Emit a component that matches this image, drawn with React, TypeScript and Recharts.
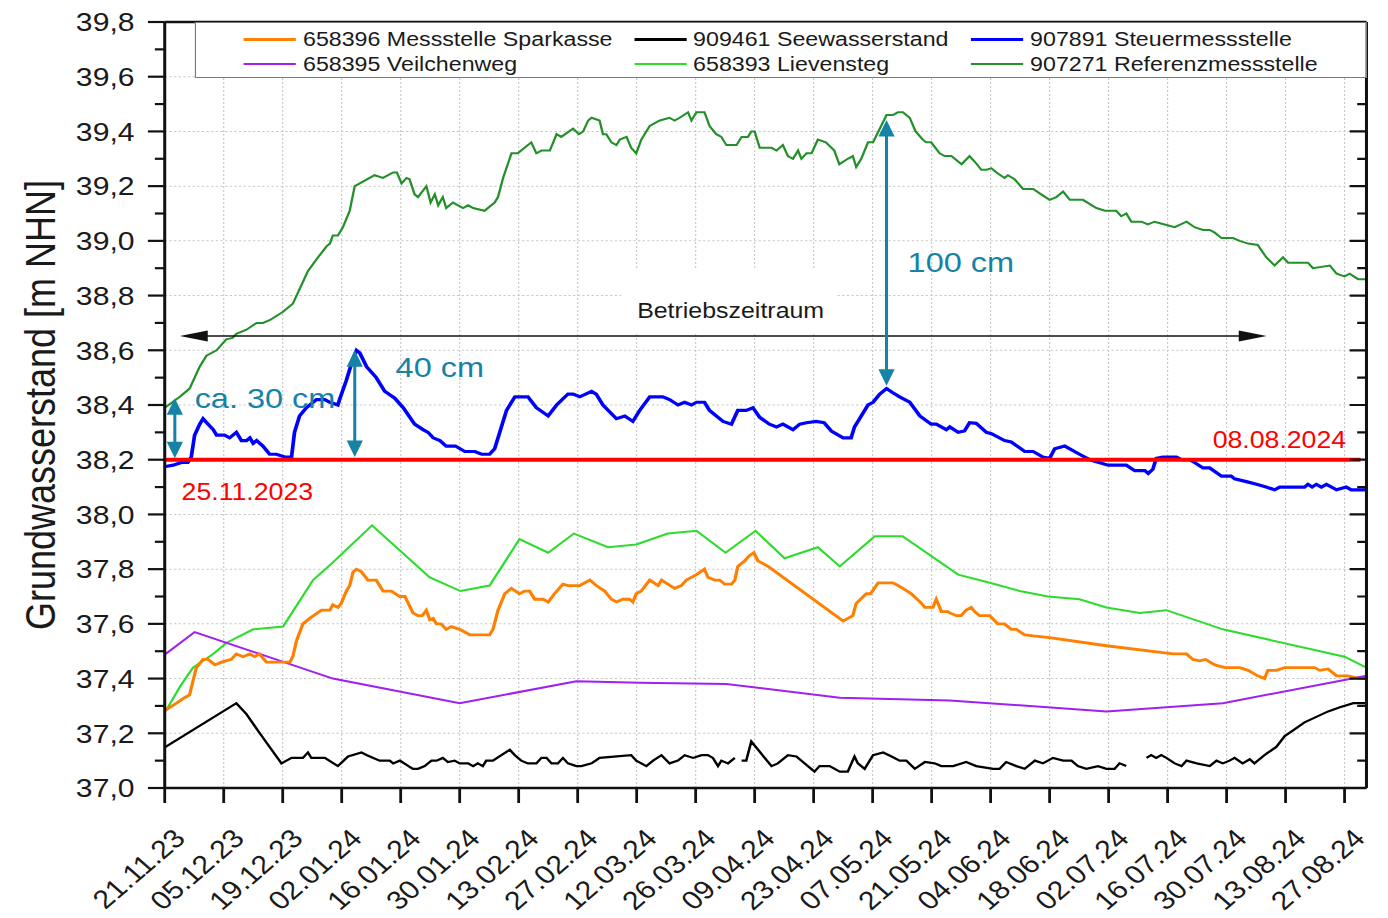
import React from "react";
import {
  LineChart,
  Line,
  XAxis,
  YAxis,
  CartesianGrid,
  Legend,
  ReferenceLine,
  ReferenceDot,
  ReferenceArea,
} from "recharts";

// x = Tage seit 21.11.2023, y = Grundwasserstand [m NHN]
type Pt = [number, number | null];

const X_TICK_LABELS = [
  "21.11.23", "05.12.23", "19.12.23", "02.01.24", "16.01.24", "30.01.24", "13.02.24",
  "27.02.24", "12.03.24", "26.03.24", "09.04.24", "23.04.24", "07.05.24", "21.05.24",
  "04.06.24", "18.06.24", "02.07.24", "16.07.24", "30.07.24", "13.08.24", "27.08.24",
];
const Y_TICKS = [
  37.0, 37.1, 37.2, 37.3, 37.4, 37.5, 37.6, 37.7, 37.8, 37.9, 38.0, 38.1, 38.2, 38.3, 38.4,
  38.5, 38.6, 38.7, 38.8, 38.9, 39.0, 39.1, 39.2, 39.3, 39.4, 39.5, 39.6, 39.7, 39.8,
];

const SPARKASSE: Pt[] = [
  [0.2, 37.285], [2.8, 37.31], [4.7, 37.33], [5.9, 37.34], [6.7, 37.39], [7.5, 37.44], [9.1, 37.47],
  [10.3, 37.47], [11.9, 37.45], [13.5, 37.46], [15.8, 37.47], [17, 37.49], [18.6, 37.48], [20.2, 37.49],
  [21.3, 37.48], [22.5, 37.49], [24.1, 37.46], [27.3, 37.46], [29.7, 37.46], [30.4, 37.48], [31.3, 37.54],
  [32.8, 37.6], [34.4, 37.62], [37.2, 37.65], [39.2, 37.65], [39.9, 37.67], [41.1, 37.66], [41.9, 37.675],
  [43.1, 37.72], [43.9, 37.74], [44.7, 37.79], [45.5, 37.8], [46.7, 37.79], [48.2, 37.76], [50.2, 37.76],
  [51.8, 37.72], [53.8, 37.72], [55.8, 37.7], [57, 37.7], [58.9, 37.64], [60.1, 37.63], [61.1, 37.63],
  [62.1, 37.65], [62.9, 37.615], [63.7, 37.62], [64.5, 37.6], [65.6, 37.6], [66.8, 37.58], [68, 37.59],
  [70, 37.58], [72.4, 37.56], [74, 37.56], [77.1, 37.56], [77.9, 37.58], [79.1, 37.65], [80.7, 37.71],
  [82.3, 37.73], [84.2, 37.71], [85.4, 37.72], [86.6, 37.72], [87.8, 37.69], [89.8, 37.69], [91, 37.68],
  [92.5, 37.71], [94.5, 37.745], [95.7, 37.74], [98.5, 37.74], [100.9, 37.76], [102.4, 37.74], [104.4, 37.72],
  [106, 37.69], [107.2, 37.68], [108.7, 37.69], [110.3, 37.69], [111.1, 37.68], [111.9, 37.71], [113.1, 37.72],
  [115.1, 37.76], [117.1, 37.74], [117.9, 37.76], [121, 37.73], [122.6, 37.74], [123.8, 37.76], [126.2, 37.78],
  [128.1, 37.8], [128.9, 37.77], [130.5, 37.76], [131.7, 37.76], [132.9, 37.745], [134.5, 37.745], [135.3, 37.76],
  [136, 37.81], [137.6, 37.83], [138.8, 37.85], [139.8, 37.86], [140.8, 37.83], [142, 37.82], [143.2, 37.81],
  [161, 37.61], [163.3, 37.63], [164.1, 37.675], [166.5, 37.71], [167.5, 37.71], [169.3, 37.75], [172.8, 37.75],
  [174, 37.74], [175.2, 37.73], [177.2, 37.71], [179.6, 37.675], [180.4, 37.66], [182.3, 37.66], [183.1, 37.69],
  [184.3, 37.645], [185.9, 37.645], [186.3, 37.64], [187.9, 37.63], [189, 37.63], [190.2, 37.65], [191.4, 37.66],
  [192.2, 37.645], [193.4, 37.63], [195.8, 37.63], [197.7, 37.6], [199.3, 37.6], [200.9, 37.58], [202.1, 37.58],
  [204.1, 37.56], [206.1, 37.556], [210, 37.55], [223.5, 37.52], [239.3, 37.49], [242.5, 37.49], [244, 37.47],
  [245.6, 37.465], [247, 37.47], [249.2, 37.45], [251.6, 37.44], [255.1, 37.44], [257.1, 37.43], [259.4, 37.41],
  [261, 37.4], [261.8, 37.43], [263.8, 37.43], [265.8, 37.44], [272.9, 37.44], [274.1, 37.43], [276.1, 37.435],
  [278.1, 37.41], [280.8, 37.41], [283.6, 37.4], [285.2, 37.4],
];

const SEEWASSER: Pt[] = [
  [0.2, 37.15], [17, 37.31], [19.4, 37.27], [22.1, 37.21], [24.9, 37.15], [27.7, 37.09], [30.1, 37.11],
  [32.8, 37.11], [34, 37.13], [34.8, 37.11], [38, 37.11], [41.1, 37.08], [43.5, 37.115], [46.7, 37.13],
  [48, 37.12], [51, 37.1], [53.4, 37.1], [54.2, 37.09], [55.8, 37.1], [58.9, 37.07], [60.1, 37.07],
  [61.7, 37.08], [63.3, 37.1], [64.5, 37.1], [66, 37.11], [67.2, 37.095], [68.8, 37.1], [70, 37.09],
  [72, 37.09], [73.2, 37.08], [74.3, 37.09], [75.5, 37.08], [76.3, 37.1], [77.9, 37.1], [79.9, 37.12],
  [81.9, 37.14], [83.1, 37.12], [84.6, 37.1], [86.2, 37.09], [88.2, 37.09], [89.4, 37.11], [90.6, 37.11],
  [91.8, 37.09], [93.3, 37.09], [94.5, 37.11], [95.7, 37.09], [97.7, 37.08], [98.9, 37.08], [101.3, 37.09],
  [103.2, 37.11], [110.7, 37.12], [111.9, 37.1], [114.3, 37.08], [115.9, 37.1], [117.9, 37.12], [119.8, 37.09],
  [121.8, 37.1], [123.4, 37.12], [125.4, 37.11], [127.4, 37.12], [128.9, 37.12], [130.1, 37.11], [131.3, 37.08],
  [132.1, 37.1], [133.7, 37.09], [135.3, 37.11], [136.1, null], [136.9, 37.1], [138, 37.1], [139.2, 37.17],
  [140.8, 37.14], [144, 37.08], [145.5, 37.09], [147.9, 37.12], [149.9, 37.115], [154.2, 37.06], [155.4, 37.08],
  [157.8, 37.08], [160.2, 37.06], [162.1, 37.06], [163.7, 37.115], [164.5, 37.09], [166.1, 37.07], [168.1, 37.12],
  [170.5, 37.13], [172.5, 37.115], [174.4, 37.1], [176, 37.1], [178, 37.07], [180.4, 37.095], [182.7, 37.09],
  [184.3, 37.08], [187.1, 37.08], [190.2, 37.095], [192.6, 37.08], [196.6, 37.07], [198.1, 37.07], [199.7, 37.095],
  [202.1, 37.08], [204.1, 37.07], [206.5, 37.1], [208.4, 37.09], [210.8, 37.11], [213.2, 37.1], [215.2, 37.1],
  [216.7, 37.08], [218.7, 37.07], [221.5, 37.08], [223.5, 37.07], [225.4, 37.07], [226.6, 37.09], [228.2, 37.08],
  [230.6, null], [233, 37.11], [234.1, 37.12], [235.3, 37.11], [236.5, 37.12], [237.7, 37.11], [239.7, 37.09],
  [241.3, 37.08], [242.5, 37.1], [244.9, 37.09], [248, 37.08], [249.6, 37.1], [251.1, 37.09], [252.7, 37.1],
  [253.9, 37.11], [255.8, 37.09], [257.5, 37.105], [258.6, 37.09], [261.4, 37.125], [263.8, 37.15], [265.8, 37.19],
  [267.7, 37.21], [270.5, 37.24], [273.3, 37.26], [276.1, 37.28], [278.9, 37.295], [282.1, 37.31], [285.2, 37.31],
];

const STEUER: Pt[] = [
  [0.2, 38.175], [2, 38.18], [4, 38.19], [5.5, 38.19], [6.3, 38.21], [7.1, 38.29], [8.3, 38.33], [9.1, 38.35],
  [10.3, 38.33], [11.5, 38.31], [12.3, 38.29], [14.2, 38.29], [15.4, 38.28], [17, 38.3], [18.2, 38.27],
  [19.4, 38.27], [20.2, 38.28], [21, 38.26], [21.8, 38.27], [23.3, 38.25], [24.9, 38.22], [26.5, 38.22],
  [28.5, 38.21], [30.1, 38.21], [30.8, 38.3], [32, 38.36], [33.6, 38.39], [36, 38.42], [38, 38.42],
  [39.2, 38.41], [41.1, 38.4], [41.5, 38.42], [43.1, 38.49], [44.7, 38.57], [45.5, 38.6], [46.3, 38.59],
  [47.9, 38.54], [50.2, 38.5], [52.2, 38.45], [54.6, 38.425], [56.6, 38.39], [59.3, 38.33], [61.3, 38.31],
  [62.5, 38.3], [63.7, 38.28], [65.3, 38.27], [66.8, 38.25], [69, 38.25], [71.2, 38.23], [73.6, 38.23],
  [75.2, 38.22], [77.1, 38.22], [78.3, 38.24], [79.5, 38.3], [81.1, 38.38], [83.1, 38.43], [86.2, 38.43],
  [88.2, 38.39], [91, 38.36], [93, 38.4], [95.7, 38.44], [96.9, 38.44], [98.5, 38.43], [101.3, 38.45],
  [102.4, 38.44], [104, 38.4], [107.2, 38.35], [109.2, 38.36], [111.1, 38.34], [112.7, 38.38], [115.1, 38.43],
  [118.2, 38.43], [119.8, 38.42], [121.8, 38.4], [123.4, 38.41], [125, 38.4], [126.2, 38.41], [128.1, 38.41],
  [129.3, 38.38], [132.5, 38.34], [134.5, 38.33], [136, 38.38], [138, 38.38], [139.6, 38.39], [141.2, 38.355],
  [143.5, 38.33], [145.2, 38.32], [146.7, 38.33], [149.1, 38.31], [150.7, 38.33], [152.3, 38.335], [154.6, 38.34],
  [156.5, 38.335], [158.2, 38.305], [161, 38.28], [162.9, 38.28], [163.7, 38.32], [164.9, 38.35], [166.9, 38.4],
  [168.1, 38.41], [169.7, 38.44], [171.3, 38.46], [172.8, 38.445], [174.4, 38.43], [176.8, 38.41], [179.2, 38.36],
  [181.9, 38.33], [183.1, 38.33], [185.5, 38.31], [186.3, 38.32], [188.3, 38.3], [189.8, 38.305], [191, 38.335],
  [192.6, 38.333], [195, 38.3], [196.2, 38.295], [199.3, 38.27], [200.9, 38.265], [204.1, 38.23], [206.1, 38.23],
  [208.4, 38.21], [210, 38.205], [211.2, 38.24], [213.6, 38.25], [217.1, 38.22], [219.5, 38.2], [223.9, 38.18],
  [228.2, 38.18], [230.2, 38.16], [232.6, 38.16], [233.4, 38.15], [234.5, 38.165], [235.3, 38.205], [236.9, 38.21],
  [240.1, 38.21], [241.3, 38.2], [243.2, 38.2], [244.4, 38.19], [246.4, 38.17], [248, 38.17], [250.8, 38.14],
  [253.1, 38.14], [253.9, 38.13], [256.7, 38.12], [259.1, 38.11], [261.4, 38.1], [263.4, 38.09], [264.6, 38.1],
  [270.5, 38.1], [271.3, 38.11], [272.3, 38.1], [273.3, 38.11], [274.5, 38.1], [275.7, 38.11], [278.1, 38.09],
  [280.4, 38.1], [281.6, 38.09], [285.2, 38.09],
];

const VEILCHENWEG: Pt[] = [
  [0.2, 37.49], [7.1, 37.57], [39.9, 37.4], [70, 37.31], [97.7, 37.39], [112.7, 37.385], [133.3, 37.38],
  [160.2, 37.33], [186.3, 37.32], [223.5, 37.28], [251.1, 37.31], [285.2, 37.41],
];

const LIEVENSTEG: Pt[] = [
  [0.2, 37.28], [3.6, 37.37], [6.7, 37.44], [11.5, 37.49], [14.6, 37.53], [21, 37.58], [28.1, 37.59],
  [35.2, 37.76], [39.6, 37.82], [49.2, 37.96], [62.9, 37.77], [70.2, 37.72], [77.1, 37.74], [84.2, 37.91],
  [91, 37.86], [97.1, 37.93], [105.2, 37.88], [111.9, 37.89], [119.4, 37.93], [126.2, 37.94], [133.1, 37.86],
  [140.2, 37.94], [147.1, 37.84], [155, 37.88], [160.2, 37.81], [168.5, 37.92], [175.1, 37.92], [188.3, 37.78],
  [195.8, 37.75], [202.9, 37.72], [209.6, 37.7], [217.1, 37.69], [223.5, 37.66], [231.4, 37.64], [237.7, 37.65],
  [251.1, 37.58], [280, 37.48], [285.2, 37.44],
];

const REFERENZ: Pt[] = [
  [0, 38.39], [3.6, 38.43], [5.9, 38.46], [8.3, 38.54], [9.9, 38.58], [12.3, 38.6], [14.6, 38.64], [16.1, 38.645],
  [17, 38.66], [19.4, 38.675], [21.8, 38.7], [23.3, 38.7], [24.9, 38.71], [28, 38.74], [30.4, 38.77], [32.8, 38.85],
  [34, 38.89], [36.4, 38.94], [38.4, 38.98], [39.2, 38.99], [39.9, 39.02], [41.1, 39.02], [42.3, 39.05],
  [43.9, 39.11], [45.1, 39.2], [46.3, 39.21], [49.8, 39.24], [51.8, 39.23], [54.2, 39.25], [55.1, 39.25],
  [56.2, 39.21], [57.4, 39.23], [58.1, 39.225], [59.3, 39.17], [60.1, 39.16], [62.1, 39.2], [63.1, 39.14],
  [64.1, 39.17], [64.9, 39.13], [66, 39.16], [66.8, 39.12], [68.4, 39.14], [70.8, 39.12], [72, 39.13],
  [73.2, 39.12], [75.9, 39.11], [77.5, 39.13], [78.3, 39.14], [79.1, 39.16], [80.3, 39.23], [82.3, 39.32],
  [83.8, 39.32], [85.4, 39.34], [87, 39.36], [88.2, 39.32], [89.4, 39.33], [91.4, 39.33], [93, 39.39],
  [94.1, 39.38], [96.9, 39.41], [98.3, 39.39], [99.3, 39.4], [100.5, 39.44], [101.3, 39.45], [103.2, 39.44],
  [104, 39.39], [104.8, 39.39], [106, 39.36], [107.2, 39.35], [108, 39.37], [109.6, 39.38], [110.7, 39.34],
  [111.9, 39.32], [113.1, 39.37], [115.1, 39.42], [116.3, 39.43], [117.5, 39.44], [119.8, 39.45], [121, 39.44],
  [122.2, 39.45], [124.2, 39.47], [125, 39.44], [126.2, 39.47], [128.1, 39.47], [129.3, 39.42], [130.9, 39.39],
  [132.1, 39.38], [133.3, 39.35], [135.7, 39.35], [136.9, 39.38], [138.4, 39.38], [139.2, 39.4], [140, 39.4],
  [141.2, 39.34], [144, 39.34], [145.2, 39.33], [146.7, 39.35], [147.9, 39.31], [149.1, 39.3], [150.3, 39.33],
  [151.1, 39.3], [152.3, 39.32], [153.5, 39.32], [155, 39.37], [156.9, 39.36], [158.9, 39.33], [160.1, 39.28],
  [162.1, 39.3], [163.3, 39.31], [164.1, 39.27], [165.3, 39.3], [166.9, 39.36], [168.1, 39.36], [169.7, 39.41],
  [171.3, 39.46], [172.8, 39.46], [174, 39.47], [175.2, 39.47], [176.8, 39.45], [178.2, 39.4], [179.9, 39.37],
  [180.7, 39.36], [181.9, 39.36], [183.9, 39.32], [185.1, 39.31], [186.7, 39.31], [189.1, 39.28], [191, 39.31],
  [192.2, 39.29], [193.8, 39.26], [195, 39.26], [196.2, 39.265], [197.4, 39.25], [199.3, 39.23], [200.1, 39.24],
  [201.7, 39.225], [203.7, 39.19], [206.1, 39.19], [208, 39.17], [210, 39.15], [211.6, 39.16], [213.2, 39.18],
  [214.8, 39.15], [217.9, 39.15], [221.1, 39.12], [223.1, 39.11], [225.8, 39.11], [227, 39.09], [228.2, 39.1],
  [229.4, 39.07], [231.8, 39.07], [233.3, 39.06], [234.9, 39.07], [237.3, 39.06], [239.7, 39.05], [242.5, 39.07],
  [244.4, 39.05], [246.4, 39.04], [248, 39.04], [249.2, 39.03], [250.8, 39.01], [252.3, 39.01], [253.5, 39.01],
  [255.1, 39.0], [257.1, 38.99], [259.4, 38.985], [261.4, 38.94], [263.4, 38.91], [265.4, 38.94], [266.6, 38.92],
  [271.3, 38.92], [272.5, 38.9], [276.5, 38.91], [278.1, 38.88], [280, 38.87], [281.2, 38.88], [283.2, 38.86],
  [285.2, 38.86],
];

// Legendenreihenfolge: Zeile 1 links→rechts, dann Zeile 2
const SERIES = [
  { name: "658396 Messstelle Sparkasse", color: "#ff7f00", width: 2.8, data: SPARKASSE },
  { name: "909461 Seewasserstand", color: "#000000", width: 2.2, data: SEEWASSER },
  { name: "907891 Steuermessstelle", color: "#0000ff", width: 3.2, data: STEUER },
  { name: "658395 Veilchenweg", color: "#a020f0", width: 2, data: VEILCHENWEG },
  { name: "658393 Lievensteg", color: "#2edc2e", width: 2, data: LIEVENSTEG },
  { name: "907271 Referenzmessstelle", color: "#23902a", width: 2, data: REFERENZ },
];
const DRAW_ORDER = [4, 5, 3, 0, 1, 2];

// die Vorlage ist horizontal gestreckt
const S = 1.16;
const W = 1197;
const H = 918;
const FONT = "'Liberation Sans', Arial, sans-serif";
const TEAL = "#1682a6";
const AXIS = "#111";

const X_TICKS = X_TICK_LABELS.map((_, i) => i * 14);
const isMajor = (v: number) => Math.round(v * 10) % 2 === 0;
const Y_MAJOR = Y_TICKS.filter(isMajor);
const fmtY = (v: number) => v.toFixed(1).replace(".", ",");
const rows = (pts: Pt[]) => pts.map(([d, v]) => ({ d, v }));

function XTick(props: any) {
  const { x, y, payload } = props;
  const label = X_TICK_LABELS[Math.round(payload.value / 14)];
  const ax = x + 19;
  const ay = y + 52;
  return (
    <g>
      <line x1={x} x2={x} y1={y} y2={y + 15} stroke={AXIS} strokeWidth={2.4} />
      <text x={ax} y={ay} textAnchor="end" fontSize={26} fontFamily={FONT} fill="#1a1a1a"
        transform={`rotate(-45 ${ax} ${ay})`}>
        {label}
      </text>
    </g>
  );
}

function YTickLeft(props: any) {
  const { x, y, payload } = props;
  const v = payload.value as number;
  const major = isMajor(v);
  return (
    <g>
      <line x1={x} x2={x - (major ? 14.5 : 8.5)} y1={y} y2={y} stroke={AXIS} strokeWidth={2.2} />
      {major && (
        <text x={x - 26} y={y} dy={9.3} textAnchor="end" fontSize={26} fontFamily={FONT} fill="#1a1a1a">
          {fmtY(v)}
        </text>
      )}
    </g>
  );
}

function YTickRight(props: any) {
  const { x, y, payload } = props;
  const major = isMajor(payload.value);
  return <line x1={x} x2={x - (major ? 14.5 : 8)} y1={y} y2={y} stroke={AXIS} strokeWidth={2.2} />;
}

function yTitle(p: any) {
  const vb = p.viewBox ?? {};
  const cx = (vb.x ?? 0) + 47;
  const cy = (vb.y ?? 22) + (vb.height ?? 766) / 2;
  return (
    <text x={cx} y={cy} textAnchor="middle" fontSize={36} fontFamily={FONT} fill="#1a1a1a"
      transform={`rotate(-90 ${cx} ${cy})`}>
      Grundwasserstand [m NHN]
    </text>
  );
}

// Doppelpfeil mit gefüllten Spitzen an beiden Enden
function arrow(color: string, width: number, len: number, half: number) {
  return (p: any) => {
    const { x1, y1, x2, y2 } = p;
    const dx = x2 - x1;
    const dy = y2 - y1;
    const d = Math.hypot(dx, dy) || 1;
    const ux = dx / d;
    const uy = dy / d;
    const nx = -uy * half;
    const ny = ux * half;
    const head = (tx: number, ty: number, sx: number, sy: number) =>
      `${tx},${ty} ${tx - sx * len + nx},${ty - sy * len + ny} ${tx - sx * len - nx},${ty - sy * len - ny}`;
    return (
      <g>
        <line x1={x1 + ux * len * 0.8} y1={y1 + uy * len * 0.8} x2={x2 - ux * len * 0.8} y2={y2 - uy * len * 0.8}
          stroke={color} strokeWidth={width} />
        <polygon points={head(x2, y2, ux, uy)} fill={color} />
        <polygon points={head(x1, y1, -ux, -uy)} fill={color} />
      </g>
    );
  };
}

function note(key: string, x: number, y: number, text: string, color: string, size: number, anchor = "start") {
  return (
    <ReferenceDot key={key} x={x} y={y} r={0} fill="none" stroke="none" ifOverflow="visible"
      label={(p: any) => {
        const vb = p.viewBox ?? p;
        return (
          <text x={vb.x} y={vb.y} fill={color} fontSize={size} fontFamily={FONT} textAnchor={anchor}>
            {text}
          </text>
        );
      }}
    />
  );
}

function LegendBox() {
  const lineX = [41.4, 377.6, 668.1];
  const textX = [92.2, 428.5, 719];
  const rowY = [16.3, 40.7];
  return (
    <div style={{ position: "relative", width: "100%", height: "100%", boxSizing: "border-box",
      border: "1.5px solid #7a7a7a", background: "#fff", fontFamily: FONT }}>
      {SERIES.map((s, i) => {
        const col = i % 3;
        const row = Math.floor(i / 3);
        const w = s.width + 0.4;
        return (
          <React.Fragment key={s.name}>
            <div style={{ position: "absolute", left: lineX[col], top: rowY[row] - w / 2, width: 45, height: w,
              background: s.color }} />
            <span style={{ position: "absolute", left: textX[col], top: rowY[row] - 10, fontSize: 20,
              lineHeight: "20px", whiteSpace: "nowrap", color: "#1a1a1a" }}>
              {s.name}
            </span>
          </React.Fragment>
        );
      })}
    </div>
  );
}

export default function App() {
  return (
    <div style={{ position: "absolute", left: 0, top: 0, width: W, height: H, background: "#fff",
      transform: `scaleX(${S})`, transformOrigin: "0 0", fontFamily: FONT }}>
      <LineChart width={W} height={H} margin={{ top: 22, right: 0, bottom: 0, left: 0 }}>
        <CartesianGrid stroke="#c9c9c9" strokeDasharray="2 2" horizontalValues={Y_MAJOR} verticalValues={X_TICKS} />
        <ReferenceArea x1={108.4} x2={159.2} y1={38.665} y2={38.894} fill="#fff" fillOpacity={1} stroke="none" />
        <XAxis type="number" dataKey="d" domain={[0, 285.2]} ticks={X_TICKS} interval={0} allowDataOverflow
          height={130} tickSize={0} tickMargin={0} tickLine={false} tick={XTick}
          axisLine={{ stroke: AXIS, strokeWidth: 2.6 }} />
        <YAxis domain={[37, 39.8]} ticks={Y_TICKS} interval={0} allowDataOverflow width={142}
          tickSize={0} tickMargin={0} tickLine={false} tick={YTickLeft}
          axisLine={{ stroke: AXIS, strokeWidth: 2.6 }} label={yTitle} />
        <YAxis yAxisId="r" orientation="right" domain={[37, 39.8]} ticks={Y_TICKS} interval={0} allowDataOverflow
          width={19} tickSize={0} tickMargin={0} tickLine={false} tick={YTickRight}
          axisLine={{ stroke: AXIS, strokeWidth: 2.6 }} />
        <ReferenceLine y={39.8} stroke={AXIS} strokeWidth={2.6} />
        <Legend layout="horizontal" verticalAlign="middle" align="center" content={() => <LegendBox />}
          wrapperStyle={{ left: 168, top: 22, width: 1010.4, height: 56 }} />
        {DRAW_ORDER.map((i) => {
          const s = SERIES[i];
          return (
            <Line key={s.name} name={s.name} data={rows(s.data)} dataKey="v" type="linear" stroke={s.color}
              strokeWidth={s.width} dot={false} activeDot={false} isAnimationActive={false} connectNulls={false} />
          );
        })}
        <ReferenceLine segment={[{ x: 0, y: 38.2 }, { x: 283.8, y: 38.2 }]} stroke="#ff0000" strokeWidth={4}
          ifOverflow="visible" />
        <ReferenceLine segment={[{ x: 3.6, y: 38.652 }, { x: 261.5, y: 38.652 }]} ifOverflow="visible"
          shape={arrow("#111", 1.6, 24, 5.5)} />
        <ReferenceLine segment={[{ x: 2.4, y: 38.205 }, { x: 2.4, y: 38.425 }]} ifOverflow="visible"
          shape={arrow(TEAL, 2.6, 16.5, 7)} />
        <ReferenceLine segment={[{ x: 45.1, y: 38.21 }, { x: 45.1, y: 38.6 }]} ifOverflow="visible"
          shape={arrow(TEAL, 2.6, 16.5, 7)} />
        <ReferenceLine segment={[{ x: 171.3, y: 38.47 }, { x: 171.3, y: 39.442 }]} ifOverflow="visible"
          shape={arrow(TEAL, 2.6, 16.5, 7)} />
        {note("n1", 7.1, 38.389, "ca. 30 cm", TEAL, 28)}
        {note("n2", 54.8, 38.503, "40 cm", TEAL, 28)}
        {note("n3", 176.3, 38.887, "100 cm", TEAL, 28)}
        {note("n4", 134.3, 38.718, "Betriebszeitraum", "#1a1a1a", 21.5, "middle")}
        {note("n5", 4.0, 38.053, "25.11.2023", "#ff0000", 23)}
        {note("n6", 248.7, 38.243, "08.08.2024", "#ff0000", 23)}
      </LineChart>
    </div>
  );
}
